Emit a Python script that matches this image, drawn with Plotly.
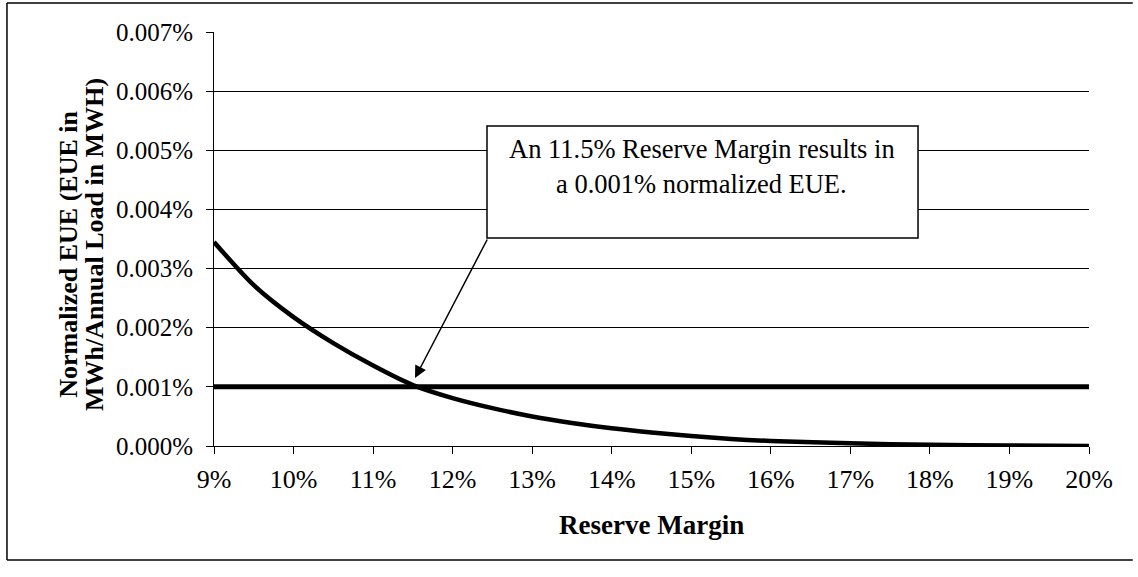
import plotly.graph_objects as go

# data (y values in percent units)
reserve_margin   = [9, 9.5, 10, 10.5, 11, 11.5, 12, 12.5, 13, 13.5, 14, 14.5, 15, 15.5, 16, 17, 18, 19, 20]
normalized_eue   = [0.00345, 0.00272, 0.00218, 0.00174, 0.00136, 0.00103, 0.00081, 0.00064, 0.00050,
                    0.00039, 0.00030, 0.00023, 0.00017, 0.00012, 0.000085, 0.000045, 0.00002, 0.00001, 0.0]
target_margin    = [9, 20]
target_eue       = [0.001, 0.001]
x_tick_vals      = [9, 10, 11, 12, 13, 14, 15, 16, 17, 18, 19, 20]
y_tick_vals      = [0, 0.001, 0.002, 0.003, 0.004, 0.005, 0.006, 0.007]
y_title_lines    = ['Normalized EUE (EUE in', 'MWh/Annual Load in MWH)']
callout_lines    = ['An 11.5% Reserve Margin results in', 'a 0.001% normalized EUE.']
callout_point    = (11.527, 0.00115)

font_family = '"Liberation Serif", "Times New Roman", serif'
ink         = 'black'

fig = go.Figure()
fig.add_trace(go.Scatter(
    x          = reserve_margin,
    y          = normalized_eue,
    mode       = 'lines',
    line       = {'color': ink, 'width': 4.5, 'shape': 'spline', 'smoothing': 0.8},
    showlegend = False,
))
fig.add_trace(go.Scatter(
    x          = target_margin,
    y          = target_eue,
    mode       = 'lines',
    line       = {'color': ink, 'width': 5},
    showlegend = False,
))

# base layout
fig.update_layout(
    width         = 1138,
    height        = 577,
    font          = {'family': font_family, 'size': 25, 'color': ink},
    plot_bgcolor  = 'white',
    paper_bgcolor = 'white',
    margin        = {'l': 214, 'r': 49, 't': 32, 'b': 131, 'autoexpand': False},
    showlegend    = False,
)

# axes
fig.update_xaxes(
    range              = [9, 20],
    tickmode           = 'array',
    tickvals           = x_tick_vals,
    ticktext           = [f'{v}%' for v in x_tick_vals],
    tickfont           = {'size': 26},
    ticks              = 'outside',
    ticklen            = 7,
    tickcolor          = ink,
    tickwidth          = 1,
    ticklabelstandoff  = 3,
    showgrid           = False,
    showline           = True,
    linecolor          = ink,
    linewidth          = 1,
    zeroline           = False,
)
fig.update_yaxes(
    range              = [0, 0.007],
    tickmode           = 'array',
    tickvals           = y_tick_vals,
    ticktext           = [f'{v:.3f}%' for v in y_tick_vals],
    tickfont           = {'size': 25},
    ticks              = 'outside',
    ticklen            = 7,
    tickcolor          = ink,
    tickwidth          = 1,
    ticklabelstandoff  = 8,
    showgrid           = True,
    gridcolor          = ink,
    gridwidth          = 1,
    showline           = True,
    linecolor          = ink,
    linewidth          = 1,
    zeroline           = False,
)

# axis titles
fig.add_annotation(
    text      = '<b>Reserve Margin</b>',
    xref      = 'paper', yref = 'paper',
    x         = 0.5, y = -0.19,
    xanchor   = 'center', yanchor = 'middle',
    showarrow = False,
    font      = {'size': 27},
)
for txt, xpos, ypos in zip(y_title_lines, [-0.1657, -0.1360], [0.462, 0.488]):
    fig.add_annotation(
        text      = f'<b>{txt}</b>',
        xref      = 'paper', yref = 'paper',
        x         = xpos, y = ypos,
        xanchor   = 'center', yanchor = 'middle',
        textangle = -90,
        showarrow = False,
        font      = {'size': 26},
    )

# callout box, text and arrow
fig.add_shape(
    type = 'rect', xref = 'paper', yref = 'paper',
    x0 = 0.312, x1 = 0.8046, y0 = 0.5024, y1 = 0.773,
    line = {'color': ink, 'width': 1.5},
    fillcolor = 'white',
    layer = 'above',
)
for txt, ypos in zip(callout_lines, [0.717, 0.632]):
    fig.add_annotation(
        text      = txt,
        xref      = 'paper', yref = 'paper',
        x         = 0.5577, y = ypos,
        xanchor   = 'center', yanchor = 'middle',
        showarrow = False,
        font      = {'size': 26.5},
    )
fig.add_annotation(
    text       = '',
    x          = callout_point[0], y = callout_point[1],
    ax         = 73, ay = -140,
    showarrow  = True,
    arrowhead  = 2,
    arrowsize  = 1.6,
    arrowwidth = 1.5,
    arrowcolor = ink,
    standoff   = 0,
)

# scanned-page frame around the chart: left, top and bottom edges only
frame_left, frame_right, frame_bottom, frame_top = -0.2366, 1.05, -0.2754, 1.07
for x0, y0, x1, y1 in [(frame_left, frame_bottom, frame_left, frame_top),
                       (frame_left, frame_top, frame_right, frame_top),
                       (frame_left, frame_bottom, frame_right, frame_bottom)]:
    fig.add_shape(
        type = 'line', xref = 'paper', yref = 'paper',
        x0 = x0, y0 = y0, x1 = x1, y1 = y1,
        line = {'color': ink, 'width': 1.5},
        layer = 'below',
    )

config = {'displayModeBar': False}

# drop the default body margin so the figure sits at the page corner
fig.write_html('out.html', config=config, post_script="document.body.style.margin = '0px';")
